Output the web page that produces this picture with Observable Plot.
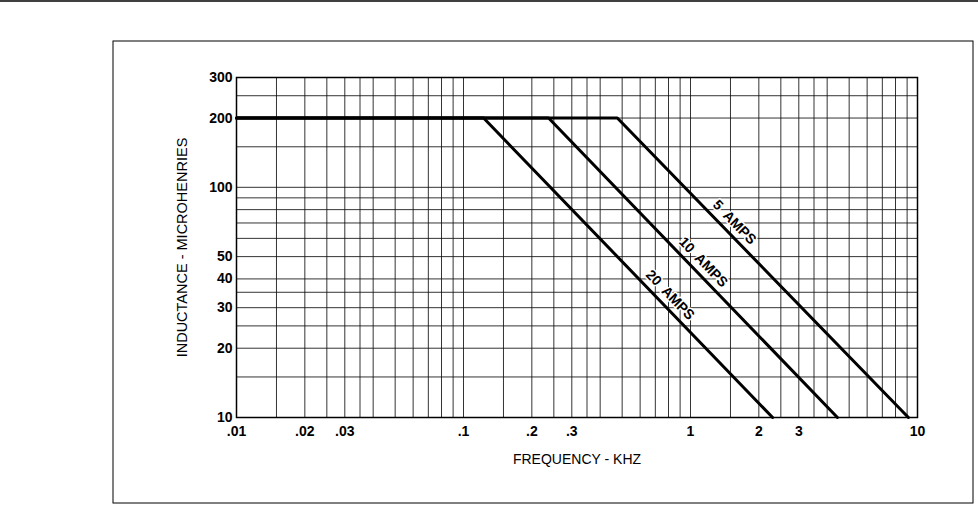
<!DOCTYPE html>
<html>
<head>
<meta charset="utf-8">
<script src="https://cdn.jsdelivr.net/npm/d3@7"></script>
<script src="https://cdn.jsdelivr.net/npm/@observablehq/plot@0.6"></script>
<style>
  body { margin: 0; background: #fff; }
  #chart svg { display: block; }
</style>
</head>
<body>
<div id="chart"></div>
<script>
// ---- Data ----
const xTickValues = [0.01, 0.02, 0.03, 0.1, 0.2, 0.3, 1, 2, 3, 10];
const xTickLabels = [".01", ".02", ".03", ".1", ".2", ".3", "1", "2", "3", "10"];
const yTickValues = [10, 20, 30, 40, 50, 100, 200, 300];

const xGrid = [0.01, 0.015, 0.02, 0.025, 0.03, 0.035, 0.04, 0.05, 0.06, 0.07, 0.08, 0.09,
               0.1, 0.15, 0.2, 0.25, 0.3, 0.35, 0.4, 0.5, 0.6, 0.7, 0.8, 0.9,
               1, 1.5, 2, 2.5, 3, 3.5, 4, 5, 6, 7, 8, 9, 10];
const yGrid = [10, 15, 20, 25, 30, 35, 40, 50, 60, 70, 80, 90, 100, 150, 200, 250, 300];

const seriesNames = ["20 AMPS", "10 AMPS", "5 AMPS"];
const inductance = [200, 200, 10];            // microhenries at the three vertices
const freq20A = [0.01, 0.1226, 2.30];          // kHz
const freq10A = [0.01, 0.237, 4.44];
const freq5A  = [0.01, 0.476, 9.12];
const labelFreq = [0.75, 1.05, 1.44];          // where each label sits along its line

// ---- Build tables ----
const freqs = [freq20A, freq10A, freq5A];
const lineRows = [];
seriesNames.forEach((name, i) => {
  freqs[i].forEach((f, j) => lineRows.push({series: name, f, L: inductance[j]}));
});

function inductanceAt(fs, f) {
  for (let j = 0; j < fs.length - 1; j++) {
    if (f >= fs[j] && f <= fs[j + 1]) {
      const t = (Math.log(f) - Math.log(fs[j])) / (Math.log(fs[j + 1]) - Math.log(fs[j]));
      return Math.exp(Math.log(inductance[j]) + t * (Math.log(inductance[j + 1]) - Math.log(inductance[j])));
    }
  }
  return NaN;
}
const labelRows = seriesNames.map((name, i) => ({
  label: name, f: labelFreq[i], L: inductanceAt(freqs[i], labelFreq[i])
}));

const tickLabel = new Map(xTickValues.map((v, i) => [v, xTickLabels[i]]));

const W = 978, H = 505;
const chart = Plot.plot({
  width: W,
  height: H,
  marginLeft: 236,
  marginRight: 61,
  marginTop: 77,
  marginBottom: 88,
  style: {background: "#fff", fontFamily: "'Liberation Sans', Arial, sans-serif", color: "#000", overflow: "visible"},
  x: {type: "log", domain: [0.01, 10]},
  y: {type: "log", domain: [10, 300]},
  marks: [
    Plot.ruleX(xGrid, {stroke: "#111", strokeWidth: 1, strokeOpacity: 0.85}),
    Plot.ruleY(yGrid, {stroke: "#111", strokeWidth: 1, strokeOpacity: 0.85}),
    Plot.frame({stroke: "#000", strokeWidth: 1.5}),
    Plot.line(lineRows, {x: "f", y: "L", z: "series", stroke: "#000", strokeWidth: 3, strokeLinejoin: "miter"}),
    Plot.text(labelRows, {x: "f", y: "L", text: d => d.label.replace(" ", "\u2002"), rotate: 46, dx: 8, dy: -8,
      fontSize: 14, fontWeight: "bold", fill: "#000", textAnchor: "middle", lineAnchor: "middle",
      stroke: "#fff", strokeWidth: 3, paintOrder: "stroke"}),
    Plot.axisX({ticks: xTickValues, tickFormat: d => tickLabel.get(d), tickSize: 0, tickPadding: 9,
      fontSize: 14, fontWeight: "bold", label: null}),
    Plot.axisY({ticks: yTickValues, tickFormat: d => String(d), tickSize: 0, tickPadding: 4,
      fontSize: 14, fontWeight: "bold", label: null}),
    Plot.text(["FREQUENCY - KHZ"], {frameAnchor: "bottom", dy: 46, text: d => d,
      fontSize: 14, fontFamily: "'Liberation Sans Narrow', 'Liberation Sans', Arial, sans-serif", fill: "#000"}),
    Plot.text(["INDUCTANCE - MICROHENRIES"], {frameAnchor: "left", dx: -54, rotate: -90, text: d => d,
      textAnchor: "middle", fontSize: 14.5, fill: "#000"})
  ]
});

// Page decorations: header rule and outer box
const svg = d3.select(chart);
svg.append("line").attr("x1", 0).attr("x2", W).attr("y1", 1).attr("y2", 1)
  .attr("stroke", "#000").attr("stroke-width", 1.5);
svg.append("rect").attr("x", 113).attr("y", 41).attr("width", 860).attr("height", 462)
  .attr("fill", "none").attr("stroke", "#000").attr("stroke-width", 1);

document.getElementById("chart").appendChild(chart);
</script>
</body>
</html>
